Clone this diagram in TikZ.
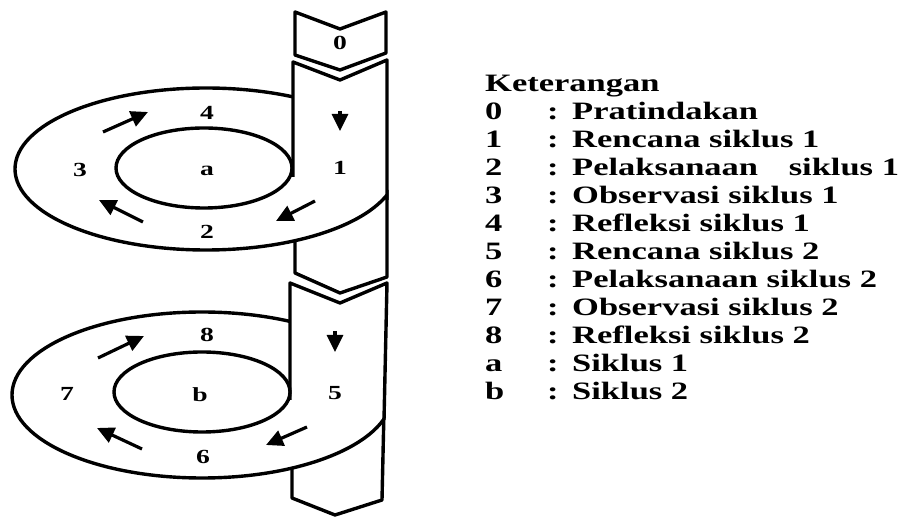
\documentclass[tikz,border=0pt]{standalone}
\usepackage{fontspec}
\setmainfont[FakeStretch=1.38]{Liberation Serif}
\usetikzlibrary{arrows.meta}
\begin{document}
\begin{tikzpicture}[x=1pt,y=-1pt,
  ln/.style={line width=3.4pt, line join=round},
  arr/.style={line width=3.2pt, -{Triangle[length=17pt,width=16pt]}},
  lab/.style={font=\fontsize{20}{20}\selectfont\bfseries, inner sep=0pt},
  leg/.style={font=\fontsize{25}{25}\selectfont\bfseries, anchor=base west, inner sep=0pt}]
\useasboundingbox[fill=white] (0,0) rectangle (906,518);

% ---- block 0 ----
\draw[ln, fill=white] (295,12) -- (340,29) -- (386,12) -- (386,53) -- (340,70) -- (295,55) -- cycle;
\node[lab] (n0) at (340,43) {0};

% ---- cycle 1 ----
\draw[ln] (295,200) -- (295,273) -- (340,293) -- (387,277) -- (387,190);
\begin{scope}
  \clip (0,0) rectangle (387,300);
  \draw[ln, fill=white] (206,169) ellipse [x radius=191pt, y radius=81pt];
\end{scope}
\fill[white] (293,62) -- (340,80) -- (387,60) -- (387,194) -- (293,177) -- cycle;
\draw[ln] (293,177) -- (293,62) -- (340,80) -- (387,60) -- (387,200);
\draw[ln, fill=white] (204,168) ellipse [x radius=88pt, y radius=40pt];

\node[lab] (n4) at (207,113) {4};
\node[lab] (n3) at (80,170) {3};
\node[lab] (na) at (207,171) {a};
\node[lab] (n1) at (340,168) {1};
\node[lab] (n2) at (207,232) {2};
\draw[arr] (103,132) -- (148,112);
\draw[arr] (143,222) -- (99,200);
\draw[arr] (315,201) -- (276,221);
\draw[arr] (340,111) -- (340,131);

% ---- cycle 2 ----
\draw[ln] (292,430) -- (292,498) -- (335,515) -- (382,500) -- (384,410);
\begin{scope}
  \clip (0,300) rectangle (384,518);
  \draw[ln, fill=white] (202,395) ellipse [x radius=190pt, y radius=83pt];
\end{scope}
\fill[white] (290,283) -- (340,303) -- (387,283) -- (384,415) -- (290,400) -- cycle;
\draw[ln] (290,400) -- (290,283) -- (340,303) -- (387,283) -- (384,420);
\draw[ln, fill=white] (202,392) ellipse [x radius=88pt, y radius=40pt];

\node[lab] (n8) at (207,335) {8};
\node[lab] (n7) at (67,394) {7};
\node[lab] (nb) at (200,395) {b};
\node[lab] (n5) at (335,393) {5};
\node[lab] (n6) at (203,457) {6};
\draw[arr] (98,358) -- (144,336);
\draw[arr] (142,449) -- (97,428);
\draw[arr] (307,427) -- (266,445);
\draw[arr] (335,331) -- (335,352);

% ---- legend ----
\node[leg] (kt) at (485,92) {Keterangan};
\foreach \k/\a/\t [count=\i] in {
  0/0/Pratindakan,
  1/1/Rencana siklus 1,
  2/2/Pelaksanaan\hspace{22pt} siklus 1,
  3/3/Observasi siklus 1,
  4/4/Refleksi siklus 1,
  5/5/Rencana siklus 2,
  6/6/Pelaksanaan siklus 2,
  7/7/Observasi siklus 2,
  8/8/Refleksi siklus 2,
  9/a/Siklus 1,
  10/b/Siklus 2}{
  \node[leg] (k\k) at (485,{92+28*\i}) {\a};
  \node[leg] (c\k) at (547,{92+28*\i}) {:};
  \node[leg] (t\k) at (572,{92+28*\i}) {\t};
}
\end{tikzpicture}
\end{document}
